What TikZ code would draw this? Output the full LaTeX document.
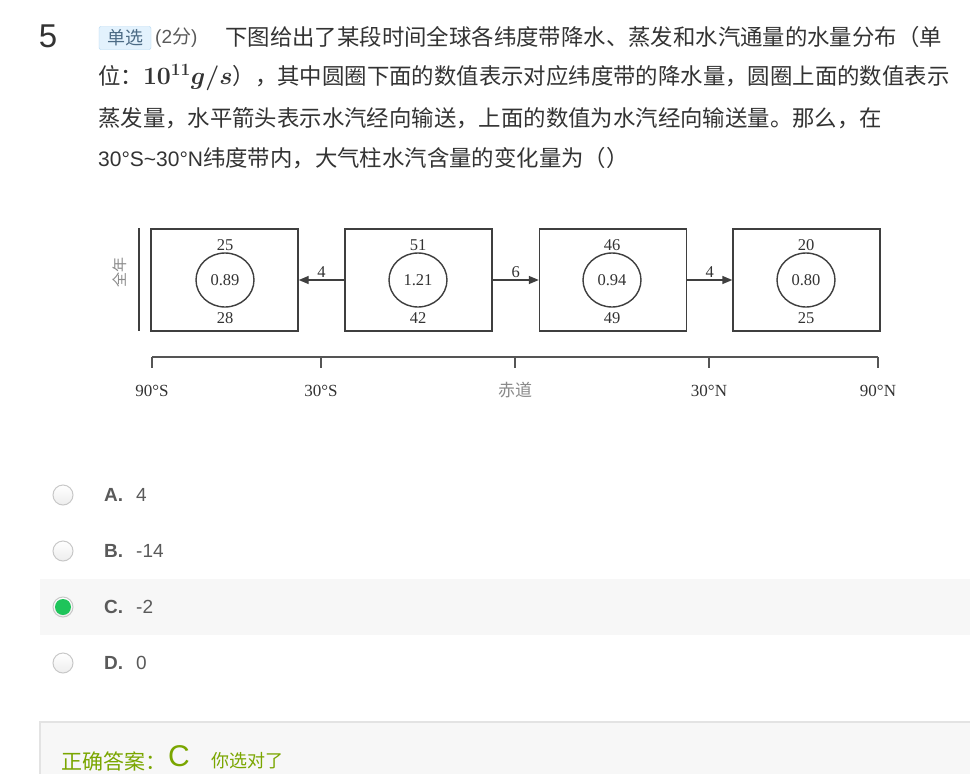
\documentclass[tikz,border=0pt]{standalone}
\usepackage{fontspec}
\setmainfont{Liberation Serif}
\newfontfamily\cjk{Noto Sans CJK SC}
\newfontfamily\arial{Liberation Sans}
\usetikzlibrary{arrows.meta,shapes.geometric}
\definecolor{txtC}{HTML}{333333}
\definecolor{lineC}{HTML}{3F3F3F}
\definecolor{axisC}{HTML}{555555}
\definecolor{lightC}{HTML}{8A8A8A}
\definecolor{optC}{HTML}{5A5A5A}
\definecolor{badgeFill}{HTML}{E3F2FD}
\definecolor{badgeLine}{HTML}{B3D7F2}
\definecolor{badgeTxt}{HTML}{4C6B85}
\definecolor{rowC}{HTML}{F7F7F7}
\definecolor{panelLine}{HTML}{E3E3E3}
\definecolor{okC}{RGB}{122,166,0}
\definecolor{radioLine}{HTML}{C8C8C8}
\definecolor{radioFill}{HTML}{EDEDED}
\definecolor{greenC}{HTML}{1EC45A}
\newcommand{\cjkl}{\cjk\fontsize{22.4}{26}\selectfont}
\newcommand{\dfont}{\fontsize{16.5}{18}\selectfont}
\begin{document}
\begin{tikzpicture}[x=1pt,y=-1pt,
  line/.style={anchor=west,inner sep=0,text=txtC,font=\cjkl},
  box/.style={draw=lineC,line width=1.4pt,minimum width=147pt,minimum height=102pt,inner sep=0},
  oval/.style={draw=lineC,line width=1.4pt,ellipse,minimum width=58pt,minimum height=54pt,inner sep=0,font=\dfont,text=txtC},
  num/.style={inner sep=0,font=\dfont,text=txtC},
  flow/.style={draw=lineC,line width=1.4pt,-{Triangle[length=10pt,width=8pt]}},
  flowlab/.style={inner sep=1.5pt,font=\dfont,text=txtC},
  axlab/.style={inner sep=0,font=\fontsize{17}{19}\selectfont,text=txtC},
  radio/.style={circle,draw=radioLine,line width=1pt,top color=white,bottom color=radioFill,minimum size=20pt,inner sep=0},
  optletter/.style={anchor=west,inner sep=0,font=\arial\bfseries\fontsize{19}{22}\selectfont,text=optC},
  optval/.style={anchor=west,inner sep=0,font=\arial\fontsize{19}{22}\selectfont,text=optC}]
\useasboundingbox[fill=white] (0,0) rectangle (970,774);

% header
\node[inner sep=0,font=\arial\fontsize{33}{36}\selectfont,text=txtC] (qnum) at (48,36) {5};
\node[draw=badgeLine,fill=badgeFill,rounded corners=2pt,minimum width=52pt,minimum height=23pt,inner sep=0,font=\cjk\fontsize{18}{20}\selectfont,text=badgeTxt] (badge) at (125,38) {单选};
\node[anchor=west,inner sep=0,font=\arial\fontsize{19}{22}\selectfont,text=optC] (score) at (155,38) {(2{\cjk 分})};
\node[line] (l1) at (225,37) {下图给出了某段时间全球各纬度带降水、蒸发和水汽通量的水量分布（单};
\node[line] (l2) at (98,78) {位：{\fontsize{27}{30}\selectfont\mathversion{bold}$10^{11}g/s$}），其中圆圈下面的数值表示对应纬度带的降水量，圆圈上面的数值表示};
\node[line] (l3) at (98,118) {蒸发量，水平箭头表示水汽经向输送，上面的数值为水汽经向输送量。那么，在};
\node[line] (l4) at (98,158) {{\arial\fontsize{21}{24}\selectfont 30°S\char"7E 30°N}纬度带内，大气柱水汽含量的变化量为（）};

% diagram
\coordinate (vt) at (139,228);
\coordinate (vb) at (139,331);
\draw[lineC,line width=1.4pt] (vt) -- (vb);
\node[inner sep=0,rotate=90,font=\cjk\fontsize{15}{17}\selectfont,text=lightC] (yr) at (120,272) {全年};

\node[box] (b1) at (224.5,280) {};
\node[box] (b2) at (418.5,280) {};
\node[box] (b3) at (613,280) {};
\node[box] (b4) at (806.5,280) {};

\node[oval] (c1) at (225,280) {0.89};
\node[oval] (c2) at (418,280) {1.21};
\node[oval] (c3) at (612,280) {0.94};
\node[oval] (c4) at (806,280) {0.80};

\node[num] (e1) at (225,245) {25};
\node[num] (e2) at (418,245) {51};
\node[num] (e3) at (612,245) {46};
\node[num] (e4) at (806,245) {20};
\node[num] (p1) at (225,318) {28};
\node[num] (p2) at (418,318) {42};
\node[num] (p3) at (612,318) {49};
\node[num] (p4) at (806,318) {25};

\draw[flow] (b2.west) -- (b1.east) node[flowlab,midway,above] {4};
\draw[flow] (b2.east) -- (b3.west) node[flowlab,midway,above] {6};
\draw[flow] (b3.east) -- (b4.west) node[flowlab,midway,above] {4};

% axis
\coordinate (t1) at (152,357);
\coordinate (t2) at (321,357);
\coordinate (t3) at (515,357);
\coordinate (t4) at (709,357);
\coordinate (t5) at (878,357);
\draw[axisC,line width=1.6pt] (t1) -- (t5);
\foreach \t in {t1,t2,t3,t4,t5} \draw[axisC,line width=1.6pt] (\t) -- ++(0,11);
\node[axlab] (a1) at (152,391) {90°S};
\node[axlab] (a2) at (321,391) {30°S};
\node[axlab,font=\cjk\fontsize{17}{19}\selectfont,text=lightC] (a3) at (515,390) {赤道};
\node[axlab] (a4) at (709,391) {30°N};
\node[axlab] (a5) at (878,391) {90°N};

% options
\fill[rowC] (40,579) rectangle (970,635);
\node[radio] (rA) at (63,495) {};
\node[radio] (rB) at (63,551) {};
\node[radio] (rC) at (63,607) {};
\node[radio] (rD) at (63,663) {};
\fill[greenC] (rC.center) circle (8pt);
\node[optletter] (oA) at (104,495) {A.};
\node[optletter] (oB) at (104,551) {B.};
\node[optletter] (oC) at (104,607) {C.};
\node[optletter] (oD) at (104,663) {D.};
\node[optval] (vA) at (136,495) {4};
\node[optval] (vB) at (136,551) {-14};
\node[optval] (vC) at (136,607) {-2};
\node[optval] (vD) at (136,663) {0};

% answer panel
\fill[rowC] (40,722) rectangle (970,774);
\draw[panelLine,line width=1.5pt] (40,774) -- (40,722) -- (970,722);
\node[anchor=west,inner sep=0,font=\cjk\fontsize{21}{24}\selectfont,text=okC] (ans) at (61,761) {正确答案：};
\node[anchor=west,inner sep=0,font=\arial\fontsize{30}{32}\selectfont,text=okC] (ansC) at (168,756) {C};
\node[anchor=west,inner sep=0,font=\cjk\fontsize{18}{21}\selectfont,text=okC] (ok) at (211,761) {你选对了};
\end{tikzpicture}
\end{document}
